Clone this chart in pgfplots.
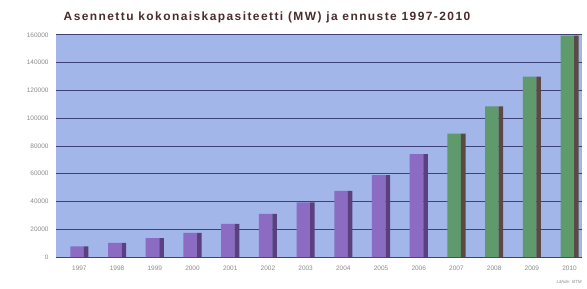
\documentclass[border=0pt]{standalone}
\usepackage{pgfplots}
\pgfplotsset{compat=1.18}
\usepackage{fontspec}
\setmainfont{Liberation Sans}
\newfontfamily\titlefont[LetterSpace=12]{Liberation Sans}
\definecolor{bgblue}{HTML}{A2B6EA}
\definecolor{gridc}{HTML}{3E4178}
\definecolor{purpf}{HTML}{8B6CC2}
\definecolor{purps}{HTML}{5B3F7E}
\definecolor{greenf}{HTML}{5E9A6C}
\definecolor{greens}{HTML}{5A4A44}
\definecolor{titlec}{HTML}{4A2C2C}
\definecolor{tickc}{HTML}{8A8A8A}
\begin{document}
\begin{tikzpicture}[x=1bp,y=1bp]
\path[use as bounding box] (0,0) rectangle (587,288);
\begin{axis}[
  at={(56bp,31bp)}, anchor=south west,
  scale only axis,
  width=526bp, height=222bp,
  xmin=-0.62, xmax=13.33,
  ymin=0, ymax=160000,
  xtick={0,...,13},
  xticklabels={1997,1998,1999,2000,2001,2002,2003,2004,2005,2006,2007,2008,2009,2010},
  ytick={0,20000,...,160000},
  scaled y ticks=false,
  yticklabel style={/pgf/number format/fixed,/pgf/number format/1000 sep={}},
  /pgf/number format/assume math mode=true,
  tick label style={font=\fontsize{6.5}{7}\selectfont, text=tickc},
  axis background/.style={fill=bgblue},
  axis line style={draw=none},
  major tick length=0pt,
  ymajorgrids,
  grid style={draw=gridc, line width=1bp},
  xticklabel style={yshift=-5bp},
  yticklabel style={xshift=-4bp},
  ybar,
  clip=false,
]
% front faces
\addplot[ybar, bar width=0.36, bar shift=-0.06, fill=purpf, draw=none] coordinates {
 (0,7600) (1,10200) (2,13600) (3,17400) (4,23900) (5,31100) (6,39400) (7,47600) (8,59100) (9,74200)};
\addplot[ybar, bar width=0.36, bar shift=-0.06, fill=greenf, draw=none] coordinates {
 (10,89000) (11,108500) (12,130000) (13,159500)};
% dark right sides
\addplot[ybar, bar width=0.12, bar shift=0.18, fill=purps, draw=none] coordinates {
 (0,7600) (1,10200) (2,13600) (3,17400) (4,23900) (5,31100) (6,39400) (7,47600) (8,59100) (9,74200)};
\addplot[ybar, bar width=0.12, bar shift=0.18, fill=greens, draw=none] coordinates {
 (10,89000) (11,108500) (12,130000) (13,159500)};
\end{axis}
\node[font=\titlefont\bfseries\fontsize{12}{14}\selectfont, text=titlec] at (267,271) {Asennettu kokonaiskapasiteetti (MW) ja ennuste 1997-2010};
\node[font=\itshape\fontsize{4.5}{5}\selectfont, text=tickc, anchor=east] at (585,6) {Lähde: BTM};
\end{tikzpicture}
\end{document}
